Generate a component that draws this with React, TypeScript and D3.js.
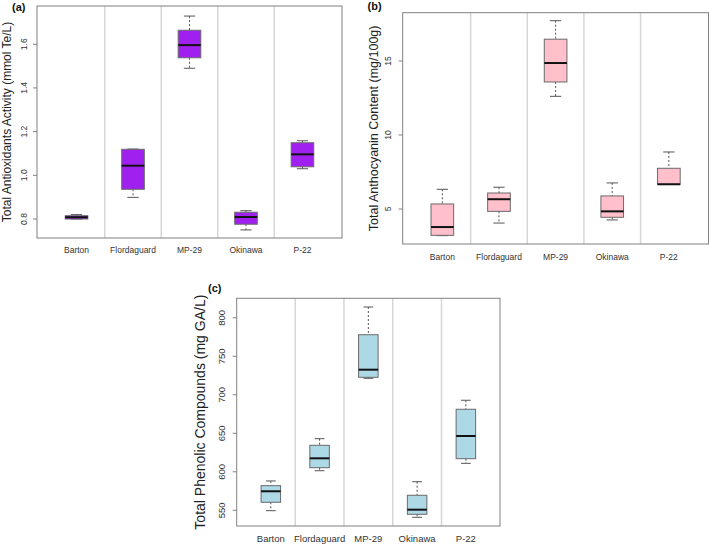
import React from "react";
import * as d3 from "d3";

const categories = ["Barton", "Flordaguard", "MP-29", "Okinawa", "P-22"];

// [min, q1, median, q3, max]
const antioxidantStats = [
  [0.8, 0.8, 0.808, 0.815, 0.82],
  [0.899, 0.936, 1.044, 1.119, 1.12],
  [1.49, 1.538, 1.596, 1.664, 1.729],
  [0.75, 0.776, 0.809, 0.831, 0.838],
  [1.03, 1.039, 1.096, 1.149, 1.158],
];
const antioxidantTicks = [0.8, 1.0, 1.2, 1.4, 1.6];

const anthocyaninStats = [
  [3.2, 3.22, 3.78, 5.34, 6.33],
  [4.05, 4.84, 5.66, 6.08, 6.47],
  [12.61, 13.58, 14.86, 16.47, 17.72],
  [4.26, 4.44, 4.84, 5.88, 6.76],
  [6.67, 6.67, 6.67, 7.75, 8.85],
];
const anthocyaninTicks = [5, 10, 15];

const phenolicStats = [
  [549.5, 560.4, 574.7, 582, 588.1],
  [601.4, 605.3, 617.5, 634.4, 643],
  [721.4, 722.7, 732.6, 778, 814],
  [540.9, 544.8, 550.8, 569.5, 587.1],
  [611, 617, 646.5, 681.2, 692.9],
];
const phenolicTicks = [550, 600, 650, 700, 750, 800];

type PanelProps = {
  left: number;
  right: number;
  top: number;
  bottom: number;
  yDomain: [number, number];
  ticks: number[];
  tickFmt: (v: number) => string;
  stats: number[][];
  fill: string;
  yLabel: string;
  yLabelX: number;
  yLabelSize: number;
  tag: string;
  tagX: number;
  tagY: number;
  catY: number;
  catSize: number;
  tickSize: number;
  tickLabelOffset: number;
};

function Panel(p: PanelProps) {
  const x = d3.scaleLinear().domain([0.3, categories.length + 0.7]).range([p.left, p.right]);
  const y = d3.scaleLinear().domain(p.yDomain).range([p.bottom, p.top]);
  const boxW = 0.4;
  const capW = 0.2;
  const font = "Liberation Sans, Arial, sans-serif";
  return (
    <g fontFamily={font}>
      {d3.range(1, categories.length).map((i) => (
        <line key={"s" + i} x1={x(i + 0.5)} x2={x(i + 0.5)} y1={p.top} y2={p.bottom} stroke="#d6d6d6" strokeWidth={1.5} />
      ))}
      {p.stats.map((s, i) => {
        const c = i + 1;
        const [mn, q1, md, q3, mx] = s;
        return (
          <g key={"b" + i}>
            <line x1={x(c)} x2={x(c)} y1={y(mx)} y2={y(q3)} stroke="#555" strokeDasharray="2,2" />
            <line x1={x(c)} x2={x(c)} y1={y(q1)} y2={y(mn)} stroke="#555" strokeDasharray="2,2" />
            <line x1={x(c - capW / 2)} x2={x(c + capW / 2)} y1={y(mx)} y2={y(mx)} stroke="#555" />
            <line x1={x(c - capW / 2)} x2={x(c + capW / 2)} y1={y(mn)} y2={y(mn)} stroke="#555" />
            <rect x={x(c - boxW / 2)} width={x(c + boxW / 2) - x(c - boxW / 2)} y={y(q3)} height={Math.max(0, y(q1) - y(q3))} fill={p.fill} stroke="#6a6a6a" strokeWidth={1} />
            <line x1={x(c - boxW / 2)} x2={x(c + boxW / 2)} y1={y(md)} y2={y(md)} stroke="#111" strokeWidth={2} />
          </g>
        );
      })}
      <rect x={p.left} y={p.top} width={p.right - p.left} height={p.bottom - p.top} fill="none" stroke="#808080" strokeWidth={1} />
      {p.ticks.map((t) => (
        <g key={"t" + t}>
          <line x1={p.left - 4} x2={p.left} y1={y(t)} y2={y(t)} stroke="#808080" />
          <text
            transform={`translate(${p.left - p.tickLabelOffset},${y(t)}) rotate(-90)`}
            textAnchor="middle"
            dominantBaseline="central"
            fontSize={p.tickSize}
            fill="#333"
          >
            {p.tickFmt(t)}
          </text>
        </g>
      ))}
      {categories.map((c, i) => (
        <text key={"c" + c} x={x(i + 1)} y={p.catY} textAnchor="middle" dominantBaseline="central" fontSize={p.catSize} fill="#333">
          {c}
        </text>
      ))}
      <text
        transform={`translate(${p.yLabelX},${(p.top + p.bottom) / 2}) rotate(-90)`}
        textAnchor="middle"
        dominantBaseline="central"
        fontSize={p.yLabelSize}
        fill="#222"
      >
        {p.yLabel}
      </text>
      <text x={p.tagX} y={p.tagY} dominantBaseline="central" fontSize={11} fontWeight="bold" fill="#111">
        {p.tag}
      </text>
    </g>
  );
}

export default function App() {
  return (
    <svg width={709} height={544} style={{ position: "absolute", left: 0, top: 0, background: "#fff" }}>
      <Panel
        left={37}
        right={342}
        top={6}
        bottom={238}
        yDomain={[0.713, 1.775]}
        ticks={antioxidantTicks}
        tickFmt={(v) => v.toFixed(1)}
        stats={antioxidantStats}
        fill="#a020f0"
        yLabel="Total Antioxidants Activity (mmol Te/L)"
        yLabelX={7}
        yLabelSize={12}
        tag="(a)"
        tagX={12}
        tagY={7}
        catY={250}
        catSize={8.5}
        tickSize={8.5}
        tickLabelOffset={13}
      />
      <Panel
        left={402.7}
        right={708.5}
        top={12.7}
        bottom={244}
        yDomain={[2.635, 18.26]}
        ticks={anthocyaninTicks}
        tickFmt={(v) => String(v)}
        stats={anthocyaninStats}
        fill="#ffc0cb"
        yLabel="Total Anthocyanin Content (mg/100g)"
        yLabelX={374}
        yLabelSize={12.5}
        tag="(b)"
        tagX={367.5}
        tagY={6}
        catY={256.5}
        catSize={8.5}
        tickSize={8.5}
        tickLabelOffset={14.5}
      />
      <Panel
        left={236.7}
        right={500}
        top={298.3}
        bottom={526}
        yDomain={[529.6, 825.3]}
        ticks={phenolicTicks}
        tickFmt={(v) => String(v)}
        stats={phenolicStats}
        fill="#add8e6"
        yLabel="Total Phenolic Compounds (mg GA/L)"
        yLabelX={200}
        yLabelSize={14}
        tag="(c)"
        tagX={208}
        tagY={288}
        catY={538}
        catSize={9.5}
        tickSize={9.5}
        tickLabelOffset={15}
      />
    </svg>
  );
}
